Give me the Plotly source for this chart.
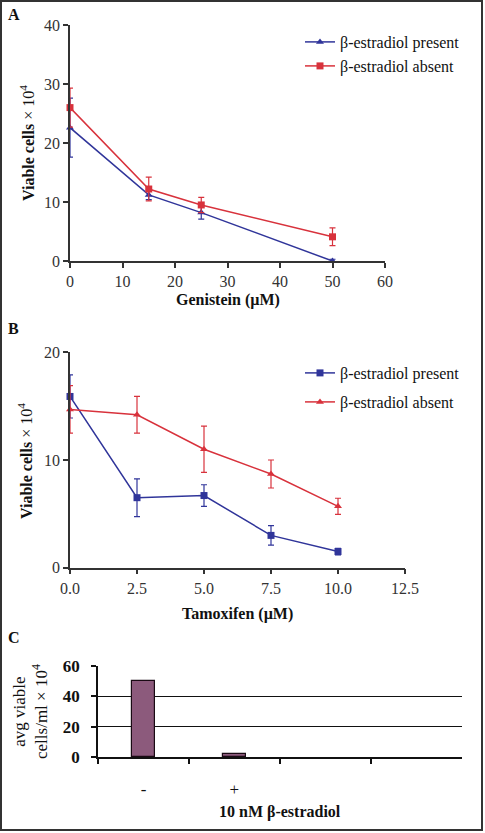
import plotly.graph_objects as go

W, H = 485, 833

# ---------- data ----------
# Panel A: Genistein
gen_x = [0, 15, 25, 50]
gen_present = [22.6, 11.2, 8.2, 0.0]
gen_present_err = [5.0, 0.8, 1.1, 0.3]
gen_absent = [26.0, 12.2, 9.5, 4.1]
gen_absent_err = [3.3, 2.0, 1.3, 1.5]

# Panel B: Tamoxifen
tam_x = [0.0, 2.5, 5.0, 7.5, 10.0]
tam_present = [15.9, 6.5, 6.7, 3.0, 1.5]
tam_present_err = [2.0, 1.75, 1.0, 0.9, 0.3]
tam_absent = [14.7, 14.2, 11.0, 8.7, 5.7]
tam_absent_err = [2.2, 1.7, 2.15, 1.3, 0.75]

# Panel C: bar
bar_cats = ["-", "+", " ", "  "]
bar_vals = [50.3, 2.0, None, None]

A_xticks = [0, 10, 20, 30, 40, 50, 60]
A_yticks = [0, 10, 20, 30, 40]
B_xticks = [0.0, 2.5, 5.0, 7.5, 10.0, 12.5]
B_yticks = [0, 10, 20]
C_yticks = [0, 20, 40, 60]

BLUE = "#30359A"
RED = "#D8323C"
BAR = "#8C5A7C"
AX = "#333333"
FONT = "Liberation Serif"

def px_x(p):
    return p / W

def px_y(p):
    return 1 - p / H

fig = go.Figure()

def add_series(x, y, err, color, symbol, name, xa, ya, legend):
    fig.add_trace(go.Scatter(
        x=x, y=y, mode="lines+markers", name=name,
        xaxis=xa, yaxis=ya, legend=legend,
        line=dict(color=color, width=1.5),
        marker=dict(color=color, symbol=symbol, size=7),
        error_y=dict(type="data", array=err, visible=True, color=color,
                     thickness=1.2, width=3),
        cliponaxis=False,
    ))

add_series(gen_x, gen_present, gen_present_err, BLUE, "triangle-up",
           "β-estradiol present", "x", "y", "legend")
add_series(gen_x, gen_absent, gen_absent_err, RED, "square",
           "β-estradiol absent", "x", "y", "legend2")
add_series(tam_x, tam_present, tam_present_err, BLUE, "square",
           "β-estradiol present", "x2", "y2", "legend3")
add_series(tam_x, tam_absent, tam_absent_err, RED, "triangle-up",
           "β-estradiol absent", "x2", "y2", "legend4")

fig.add_trace(go.Bar(
    x=bar_cats, y=bar_vals, xaxis="x3", yaxis="y3", showlegend=False,
    marker=dict(color=BAR, line=dict(color="#1a0a14", width=1.2)),
    width=0.26,
))

tickfont = dict(family=FONT, size=16, color=AX)

common_axis = dict(showline=True, linecolor=AX, linewidth=1.5, ticks="outside",
                   ticklen=5, tickcolor=AX, tickwidth=1.5, showgrid=False,
                   zeroline=False, tickfont=tickfont, automargin=False)

legend_common = dict(font=dict(family=FONT, size=16, color="#111111"),
                     bgcolor="rgba(0,0,0,0)", xanchor="left", yanchor="middle",
                     itemwidth=30)

fig.update_layout(
    width=W, height=H, autosize=False,
    margin=dict(l=0, r=0, t=0, b=0, autoexpand=False),
    paper_bgcolor="white", plot_bgcolor="white",
    font=dict(family=FONT),
    bargap=0,
    xaxis=dict(domain=[px_x(70), px_x(385)], range=[0, 60], tickvals=A_xticks,
               anchor="y", **common_axis),
    yaxis=dict(domain=[px_y(261), px_y(25)], range=[0, 40], tickvals=A_yticks,
               anchor="x", **common_axis),
    xaxis2=dict(domain=[px_x(70), px_x(405)], range=[0, 12.5], tickvals=B_xticks,
                tickformat=".1f", anchor="y2", **common_axis),
    yaxis2=dict(domain=[px_y(567.7), px_y(352.3)], range=[0, 20], tickvals=B_yticks,
                anchor="x2", **common_axis),
    xaxis3=dict(domain=[px_x(98), px_x(461.7)], type="category",
                categoryorder="array", categoryarray=bar_cats, range=[-0.5, 3.5],
                anchor="y3", showline=True, linecolor="#111111", linewidth=1.5,
                ticks="outside", tickson="boundaries", ticklen=5,
                tickcolor="#111111", tickwidth=1.5, showgrid=False, zeroline=False,
                tickfont=dict(family=FONT, size=17, color="#111111"),
                ticklabelstandoff=16, automargin=False),
    yaxis3=dict(domain=[px_y(757.3), px_y(666)], range=[0, 60], tickvals=C_yticks,
                anchor="x3", showline=True, linecolor="#111111", linewidth=1.5,
                ticks="outside", ticklen=5, tickcolor="#111111", tickwidth=1.5,
                showgrid=True, gridcolor="#111111", gridwidth=1.3, zeroline=False,
                tickfont=dict(family=FONT, size=17, color="#111111", weight="bold"),
                ticklabelstandoff=8, automargin=False),
    legend=dict(x=px_x(300), y=px_y(42), **legend_common),
    legend2=dict(x=px_x(300), y=px_y(66), **legend_common),
    legend3=dict(x=px_x(300), y=px_y(373), **legend_common),
    legend4=dict(x=px_x(300), y=px_y(402), **legend_common),
)

def label(text, xp, yp, size=16, angle=0, xanchor="center", yanchor="middle"):
    fig.add_annotation(text=text, xref="paper", yref="paper",
                       x=px_x(xp), y=px_y(yp), xanchor=xanchor, yanchor=yanchor,
                       showarrow=False, textangle=angle,
                       font=dict(family=FONT, size=size, color="#111111"))

# panel letters
label("<b>A</b>", 6, 15, xanchor="left")
label("<b>B</b>", 6, 329, xanchor="left")
label("<b>C</b>", 6, 637, xanchor="left")

# axis titles
label("<b>Genistein (µM)</b>", 228, 300)
label("<b>Viable cells</b> × 10<sup>4</sup>", 27, 143, angle=-90)
label("<b>Tamoxifen (µM)</b>", 237, 614)
label("<b>Viable cells</b> × 10<sup>4</sup>", 25, 461, angle=-90)
label("avg viable<br>cells/ml × 10<sup>4</sup>", 30, 712, size=17, angle=-90)
label("<b>10 nM β-estradiol</b>", 280, 812)

fig.add_shape(type="rect", xref="paper", yref="paper",
              x0=px_x(1), x1=px_x(482), y0=px_y(830), y1=px_y(1),
              line=dict(color="#333333", width=2), fillcolor="rgba(0,0,0,0)")

fig.write_html("out.html",
               config={"displayModeBar": False},
               post_script="document.body.style.margin='0';document.body.style.padding='0';")
